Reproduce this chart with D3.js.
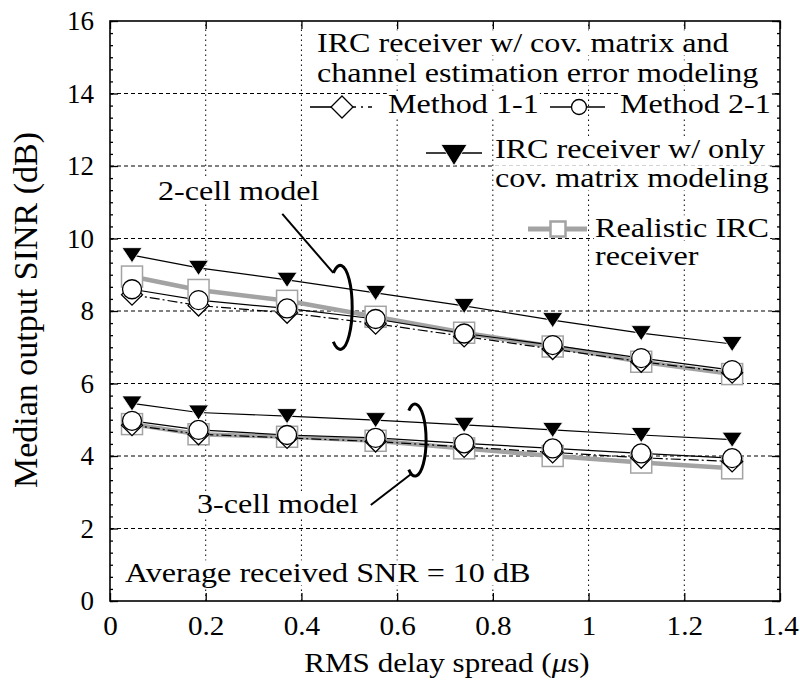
<!DOCTYPE html>
<html>
<head>
<meta charset="utf-8">
<script src="https://cdn.jsdelivr.net/npm/d3@7"></script>
<style>
  body { margin: 0; background: #fff; }
  svg text { fill: #000; }
</style>
</head>
<body>
<svg id="chart" width="800" height="684"></svg>
<script>
// Median output SINR vs RMS delay spread, 2-cell and 3-cell models.

const delaySpread = [0.046, 0.185, 0.37, 0.555, 0.74, 0.925, 1.11, 1.3];

const cell2Method11 = [8.45, 8.15, 7.95, 7.65, 7.3, 6.95, 6.6, 6.3];
const cell2Method21 = [8.6, 8.3, 8.07, 7.78, 7.38, 7.06, 6.7, 6.37];
const cell2CovOnly = [9.54, 9.19, 8.86, 8.5, 8.14, 7.75, 7.39, 7.09];
const cell2Realistic = [8.95, 8.58, 8.28, 7.84, 7.4, 7.02, 6.6, 6.26];

const cell3Method11 = [4.85, 4.6, 4.5, 4.4, 4.25, 4.1, 3.95, 3.85];
const cell3Method21 = [4.97, 4.72, 4.58, 4.5, 4.35, 4.21, 4.07, 3.94];
const cell3CovOnly = [5.45, 5.2, 5.1, 4.99, 4.86, 4.72, 4.58, 4.45];
const cell3Realistic = [4.88, 4.6, 4.53, 4.42, 4.21, 4.0, 3.82, 3.66];

const xTicks = [0, 0.2, 0.4, 0.6, 0.8, 1, 1.2, 1.4];
const yTicks = [0, 2, 4, 6, 8, 10, 12, 14, 16];

const gray = '#a3a3a3';

// pick a Times-like face if one is installed, otherwise Liberation Sans a bit smaller
function hasFont(name) {
    const ctx = document.createElement('canvas').getContext('2d');
    const probe = 'IRC receiver w/ cov. matrix 0123456789';
    return ['monospace', 'sans-serif'].some(fb => {
        ctx.font = `40px ${fb}`;
        const w0 = ctx.measureText(probe).width;
        ctx.font = `40px "${name}", ${fb}`;
        return ctx.measureText(probe).width !== w0;
    });
}
const serifFace = ['Liberation Serif', 'Tinos', 'Times New Roman', 'DejaVu Serif', 'Noto Serif', 'FreeSerif']
    .find(hasFont);
const fontFamily = serifFace ? `"${serifFace}", serif` : '"Liberation Sans", Arial, sans-serif';
const fs = serifFace ? 27 : 25;
// the source figure's lettering is wider than it is tall
const sx = 1.19;

const svg = d3.select('#chart').attr('font-family', fontFamily);
const margin = { left: 110, right: 20, top: 21, bottom: 83 };
const width = 800 - margin.left - margin.right;
const height = 684 - margin.top - margin.bottom;

const x = d3.scaleLinear().domain([0, 1.4]).range([margin.left, margin.left + width]);
const y = d3.scaleLinear().domain([0, 16]).range([margin.top + height, margin.top]);

// grid
const grid = svg.append('g').attr('class', 'grid');
grid.selectAll('.vgrid').data(xTicks.slice(1, -1))
    .enter().append('line')
    .attr('x1', d => x(d)).attr('x2', d => x(d))
    .attr('y1', y(0)).attr('y2', y(16))
    .attr('stroke', '#000').attr('stroke-width', 1)
    .attr('stroke-dasharray', '1.5,3.5');
grid.selectAll('.hgrid').data(yTicks.slice(1, -1))
    .enter().append('line')
    .attr('x1', x(0)).attr('x2', x(1.4))
    .attr('y1', d => y(d)).attr('y2', d => y(d))
    .attr('stroke', '#000').attr('stroke-width', 1)
    .attr('stroke-dasharray', '4,3');

// axes (ticks inward)
const axisB = d3.axisBottom(x).tickValues(xTicks).tickSize(-8).tickPadding(14)
    .tickFormat(d => d3.format('')(d));
const axisL = d3.axisLeft(y).tickValues(yTicks).tickSize(-8).tickPadding(16);
const axisT = d3.axisTop(x).tickValues(xTicks).tickSize(-8).tickFormat('');
const axisR = d3.axisRight(y).tickValues(yTicks).tickSize(-8).tickFormat('');

const minorY = d3.range(0, 16.01, 1 / 3);

function styleAxis(g) {
    g.attr('font-family', fontFamily).attr('font-size', fs);
    g.select('.domain').remove();
    g.selectAll('line').attr('stroke', '#000').attr('stroke-width', 1.3);
}

svg.append('g').attr('transform', `translate(0,${y(0)})`).call(axisB).call(styleAxis)
    .selectAll('text').attr('dy', '0.75em').attr('transform', 'scale(1.08,1)');
svg.append('g').attr('transform', `translate(${x(0)},0)`).call(axisL).call(styleAxis);
svg.append('g').attr('transform', `translate(0,${y(16)})`).call(axisT).call(styleAxis);
svg.append('g').attr('transform', `translate(${x(1.4)},0)`).call(axisR).call(styleAxis);

svg.append('g').attr('transform', `translate(${x(0)},0)`)
    .call(d3.axisLeft(y).tickValues(minorY).tickSize(-3).tickFormat(''))
    .call(styleAxis);
svg.append('g').attr('transform', `translate(${x(1.4)},0)`)
    .call(d3.axisRight(y).tickValues(minorY).tickSize(-3).tickFormat(''))
    .call(styleAxis);

svg.append('rect')
    .attr('x', x(0)).attr('y', y(16))
    .attr('width', x(1.4) - x(0)).attr('height', y(0) - y(16))
    .attr('fill', 'none').attr('stroke', '#000').attr('stroke-width', 1.6);

// axis titles
svg.append('text')
    .attr('transform', `translate(447,672) scale(1.15,1)`)
    .attr('text-anchor', 'middle')
    .attr('font-size', fs)
    .html('RMS delay spread (<tspan font-style="italic">μ</tspan>s)');

svg.append('text')
    .attr('transform', 'translate(37,310) rotate(-90)')
    .attr('text-anchor', 'middle')
    .attr('font-size', 34)
    .text('Median output SINR (dB)');

// opaque text helper (stretched horizontally like the source lettering)
const labels = svg.append('g').attr('class', 'labels');
function boxedText(tx, ty, str) {
    const g = labels.append('g').attr('transform', `translate(${tx},${ty}) scale(${sx},1)`);
    const t = g.append('text').attr('x', 0).attr('y', 0)
        .attr('font-size', fs).text(str);
    const b = t.node().getBBox();
    g.insert('rect', 'text')
        .attr('x', b.x - 1).attr('y', b.y + 2)
        .attr('width', b.width + 2).attr('height', b.height - 4)
        .attr('fill', '#fff');
    return g;
}

// series
const line = d3.line().x(d => x(d[0])).y(d => y(d[1]));
const zip = vals => delaySpread.map((d, i) => [d, vals[i]]);

const plot = svg.append('g').attr('class', 'plot');

function seriesLine(vals, stroke, widthPx, dash) {
    plot.append('path')
        .datum(zip(vals))
        .attr('d', line)
        .attr('fill', 'none')
        .attr('stroke', stroke)
        .attr('stroke-width', widthPx)
        .attr('stroke-dasharray', dash || null);
}

[cell2Realistic, cell3Realistic].forEach(v => seriesLine(v, gray, 4.5));
[cell2Method11, cell3Method11].forEach(v => seriesLine(v, '#000', 1.2, '10,3,2,3'));
[cell2Method21, cell3Method21].forEach(v => seriesLine(v, '#000', 1.2));
[cell2CovOnly, cell3CovOnly].forEach(v => seriesLine(v, '#000', 1.2));

const square = (g, s, sw) => g.append('rect')
    .attr('x', -s / 2).attr('y', -s / 2).attr('width', s).attr('height', s)
    .attr('fill', '#fff').attr('stroke', gray).attr('stroke-width', sw);
const diamond = (g, s) => g.append('path')
    .attr('d', `M0,${-s}L${s},0L0,${s}L${-s},0Z`)
    .attr('fill', '#fff').attr('stroke', '#000').attr('stroke-width', 1.3);
const circle = (g, r) => g.append('circle').attr('r', r)
    .attr('fill', '#fff').attr('stroke', '#000').attr('stroke-width', 1.3);
const triangle = (g, w, h) => g.append('path')
    .attr('d', `M${-w / 2},${-h / 2}L${w / 2},${-h / 2}L0,${h / 2}Z`)
    .attr('fill', '#000').attr('stroke', '#fff').attr('stroke-width', 0.8);

function markers(vals, draw) {
    plot.append('g').selectAll('g').data(zip(vals))
        .enter().append('g')
        .attr('transform', d => `translate(${x(d[0])},${y(d[1])})`)
        .each(function () { draw(d3.select(this)); });
}

[cell2Realistic, cell3Realistic].forEach(v => markers(v, g => square(g, 21, 1.5)));
[cell2Method11, cell3Method11].forEach(v => markers(v, g => diamond(g, 10.5)));
[cell2Method21, cell3Method21].forEach(v => markers(v, g => circle(g, 9.5)));
[cell2CovOnly, cell3CovOnly].forEach(v => markers(v, g => triangle(g, 20, 15)));

// group annotations (ellipse brackets with leaders)
function bracket(cx, cy, rx, ry) {
    const a = 125 * Math.PI / 180;
    const sx0 = cx + rx * Math.cos(-a), sy0 = cy + ry * Math.sin(-a);
    const ex = cx + rx * Math.cos(a), ey = cy + ry * Math.sin(a);
    svg.append('path')
        .attr('d', `M${sx0},${sy0}A${rx},${ry} 0 1 1 ${ex},${ey}`)
        .attr('fill', 'none').attr('stroke', '#000').attr('stroke-width', 3);
    return { top: [sx0, sy0], bottom: [ex, ey] };
}

const b2 = bracket(x(0.481), y(8.1), 12, 42);
svg.append('line')
    .attr('x1', x(0.36)).attr('y1', y(10.68))
    .attr('x2', b2.top[0]).attr('y2', b2.top[1])
    .attr('stroke', '#000').attr('stroke-width', 2);

const b3 = bracket(x(0.6375), y(4.44), 11, 36);
svg.append('line')
    .attr('x1', b3.bottom[0] + 3).attr('y1', b3.bottom[1] + 4)
    .attr('x2', x(0.545)).attr('y2', y(2.65))
    .attr('stroke', '#000').attr('stroke-width', 2);

boxedText(158, 200, '2-cell model');
boxedText(197, 513, '3-cell model');
boxedText(125, 582, 'Average received SNR = 10 dB');

// legend
const legend = svg.append('g').attr('class', 'legend');
boxedText(317, 52, 'IRC receiver w/ cov. matrix and');
boxedText(317, 82, 'channel estimation error modeling');

function sampleLine(x1, x2, yy, stroke, w, dash) {
    legend.append('line')
        .attr('x1', x1).attr('x2', x2).attr('y1', yy).attr('y2', yy)
        .attr('stroke', stroke).attr('stroke-width', w)
        .attr('stroke-dasharray', dash || null);
}

sampleLine(310, 332, 107, '#000', 1.6);
sampleLine(352, 374, 107, '#000', 1.6, '4,5,2,5');
diamond(legend.append('g').attr('transform', 'translate(342,107)'), 11);
boxedText(388, 113, 'Method 1-1');

sampleLine(550, 605, 107, '#000', 1.6);
circle(legend.append('g').attr('transform', 'translate(579,107)'), 7.5);
boxedText(620, 113, 'Method 2-1');

sampleLine(426, 482, 153, '#000', 1.6);
triangle(legend.append('g').attr('transform', 'translate(454,155)'), 26, 21);
boxedText(495, 158, 'IRC receiver w/ only');
boxedText(495, 187, 'cov. matrix modeling');

sampleLine(528, 587, 229, gray, 5);
square(legend.append('g').attr('transform', 'translate(558,229)'), 15, 2.5);
boxedText(595, 237, 'Realistic IRC');
boxedText(595, 265, 'receiver');
</script>
</body>
</html>
